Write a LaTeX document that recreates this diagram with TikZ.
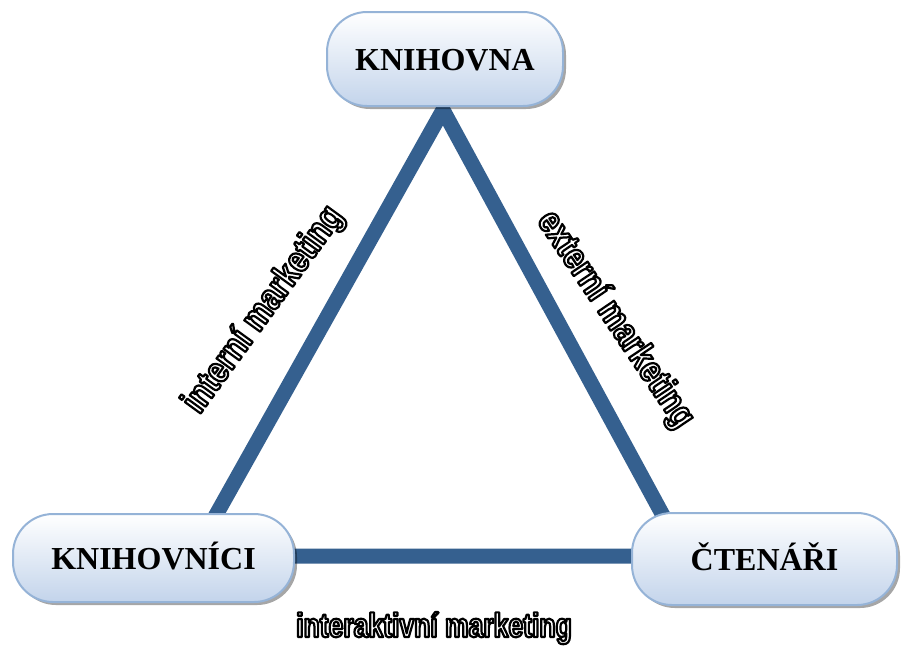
\documentclass[tikz,border=0pt]{standalone}
\usepackage{fontspec}
\setmainfont{Liberation Serif}
\newfontfamily\labfont{Liberation Sans}[FakeStretch=0.82]
\newfontfamily\labfontb{Liberation Sans}[FakeStretch=0.78]
\usetikzlibrary{shadows}
\definecolor{linec}{HTML}{35608F}
\definecolor{boxedge}{HTML}{95B3D7}
\definecolor{boxbot}{HTML}{C3D4EB}
\newcommand{\outlinetext}[1]{\special{pdf:literal direct 0 G 2.2 w 1 j 2 Tr}#1\special{pdf:literal direct 0 Tr}}
\tikzset{
 box/.style={draw=boxedge, line width=2pt, rounded corners=40pt,
   top color=white, bottom color=boxbot, inner sep=0pt,
   font=\bfseries\fontsize{32}{38}\selectfont, text height=22pt, text depth=0pt,
   drop shadow={shadow xshift=3pt, shadow yshift=-3pt, fill=black, opacity=0.35}},
 conn/.style={draw=linec, line width=15pt, line join=miter},
 lab/.style={font=\labfont\bfseries\fontsize{37}{42}\selectfont, text=white, inner sep=0pt},
 labb/.style={font=\labfontb\bfseries\fontsize{34}{40}\selectfont, text=white, inner sep=0pt}
}
\begin{document}
\begin{tikzpicture}[x=1pt,y=-1pt]
\useasboundingbox (0,0) rectangle (901,649);
\coordinate (apex) at (443,110);
\coordinate (bl) at (193,556);
\coordinate (br) at (685,556);
\draw[conn] (apex) -- (bl) -- (br) -- cycle;
\node[box, minimum width=236pt, minimum height=94pt] (knihovna) at (445,59) {KNIHOVNA};
\node[box, minimum width=281pt, minimum height=88pt] (knihovnici) at (153.5,558) {KNIHOVNÍCI};
\node[box, minimum width=265pt, minimum height=92pt] (ctenari) at (764.5,559) {ČTENÁŘI};
\node[lab, rotate=54] (lint) at (264,310) {\outlinetext{interní marketing}};
\node[lab, rotate=-56] (lext) at (615,320) {\outlinetext{externí marketing}};
\node[labb, anchor=base] (linter) at (434,637) {\outlinetext{interaktivní marketing}};
\end{tikzpicture}
\end{document}
